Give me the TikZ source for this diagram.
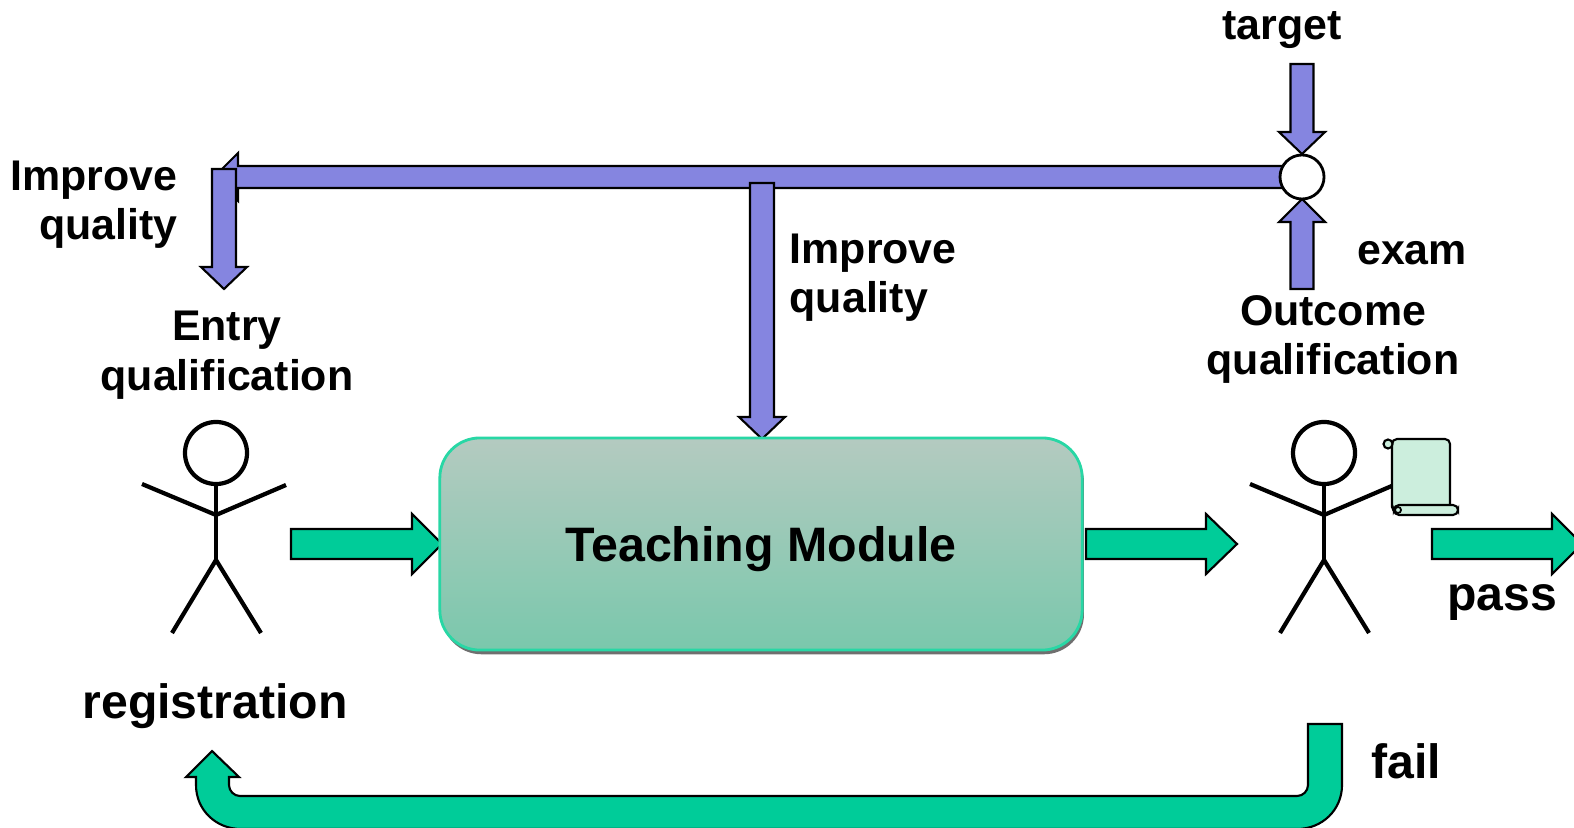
\documentclass[tikz,border=0pt]{standalone}
\usepackage{fontspec}
\setmainfont{Liberation Sans}
\usetikzlibrary{shadows}
\definecolor{purp}{RGB}{133,133,224}
\definecolor{grn}{RGB}{0,204,153}
\definecolor{boxborder}{RGB}{40,215,165}
\definecolor{boxtop}{RGB}{180,202,192}
\definecolor{boxbot}{RGB}{122,200,172}
\definecolor{scrollfill}{RGB}{204,238,221}
% horizontal block arrow: style, x tail, x tip, y, shaft half, head half, signed head length
\newcommand\harrowshape[7]{%
  \draw[#1] (#2,{#4-#5}) -- ({#3-(#7)},{#4-#5}) -- ({#3-(#7)},{#4-#6}) -- (#3,#4)
    -- ({#3-(#7)},{#4+#6}) -- ({#3-(#7)},{#4+#5}) -- (#2,{#4+#5}) -- cycle;}
% vertical block arrow: style, x, y tail, y tip, shaft half, head half, signed head length
\newcommand\varrowshape[7]{%
  \draw[#1] ({#2-#5},#3) -- ({#2-#5},{#4-(#7)}) -- ({#2-#6},{#4-(#7)}) -- (#2,#4)
    -- ({#2+#6},{#4-(#7)}) -- ({#2+#5},{#4-(#7)}) -- ({#2+#5},#3) -- cycle;}
\tikzset{
  parrow/.style={fill=purp, draw=black, line width=0.6pt, line join=miter},
  garrow/.style={fill=grn, draw=black, line width=0.6pt, line join=miter},
  lbl/.style={inner sep=0pt, font=\fontsize{12.2pt}{14.2pt}\selectfont\bfseries},
  lblbig/.style={inner sep=0pt, font=\fontsize{13.7pt}{16pt}\selectfont\bfseries},
  tmbox/.style={draw=boxborder, line width=0.8pt, rounded corners=0.4cm,
    top color=boxtop, bottom color=boxbot,
    drop shadow={shadow xshift=0.5pt, shadow yshift=-1.2pt, fill=black!70, opacity=0.8},
    font=\fontsize{13.75pt}{16pt}\selectfont\bfseries, text depth=0pt},
  stick/.style={draw=black, line width=1.2pt},
  scrollst/.style={fill=scrollfill, draw=black, line width=0.6pt},
  stickman/.pic={
    \draw[stick] (0,0) circle (0.31cm);
    \draw[stick] (0,31) -- (0,107);
    \draw[stick] (-74,31) -- (0,62) -- (70,32);
    \draw[stick] (-44,180) -- (0,107) -- (45,180);
  }
}
\begin{document}
\begin{tikzpicture}[x=0.01cm,y=-0.01cm]
\useasboundingbox (0,0) rectangle (1574,828);
\fill[white] (0,0) rectangle (1574,828);

% feedback bar to the left
\harrowshape{parrow}{1290}{214}{177}{11}{24}{-24}
% down arrow to entry qualification
\varrowshape{parrow}{224}{169}{289}{12}{23}{22}
% down arrow to teaching module
\varrowshape{parrow}{762}{183}{439}{12}{23}{22}
% target arrow
\varrowshape{parrow}{1302}{64}{154}{11.5}{23}{22}
% exam arrow
\varrowshape{parrow}{1302}{289}{199}{11.5}{23}{-23}
% comparison circle
\node[circle, draw=black, fill=white, line width=0.8pt, minimum size=0.44cm, inner sep=0pt] (cmp) at (1302,177) {};

% green flow arrows
\harrowshape{garrow}{291}{442}{544}{15}{30}{30}
\harrowshape{garrow}{1086}{1237}{544}{15}{30}{31}
\harrowshape{garrow}{1432}{1582}{544}{15}{30}{30}

% teaching module box
\node[tmbox, minimum width=6.42cm, minimum height=2.12cm] (tm) at (761,544) {Teaching Module};

% fail return arrow
\draw[garrow] (1308,724) -- (1342,724) -- (1342,785)
  .. controls (1342,810) and (1322,829) .. (1297,829) -- (241,829)
  .. controls (216,829) and (196,810) .. (196,785) -- (196,777) -- (186,777)
  -- (212,751) -- (239,777) -- (229,777) -- (229,785)
  .. controls (229,791) and (234,796) .. (240,796) -- (1297,796)
  .. controls (1303,796) and (1308,791) .. (1308,785) -- cycle;

% stick figures
\pic at (216,453) {stickman};
\pic at (1324,453) {stickman};

% scroll
\filldraw[scrollst, rounded corners=0.05cm] (1392,439) rectangle (1450,512);
\filldraw[scrollst] (1388,444) circle (0.045cm);
\filldraw[scrollst, rounded corners=0.05cm] (1394,505) rectangle (1458,515);
\draw[line width=0.5pt] (1398,510) circle (0.03cm);

% labels
\node[lbl, anchor=base east, align=right] (iq1) at (178,240) {Improve\\quality};
\node[lbl, anchor=base, align=center] (entry) at (227,390) {Entry\\qualification};
\node[lbl, anchor=base west, align=left] (iq2) at (789,313) {Improve\\quality};
\node[lbl, anchor=base] (target) at (1282,40) {target};
\node[lbl, anchor=base] (exam) at (1412,265) {exam};
\node[lbl, anchor=base, align=center] (outcome) at (1333,375) {Outcome\\qualification};
\node[lblbig, anchor=base] (reg) at (215,718) {registration};
\node[lblbig, anchor=base] (pass) at (1502,610) {pass};
\node[lblbig, anchor=base] (fail) at (1406,778) {fail};
\end{tikzpicture}
\end{document}
